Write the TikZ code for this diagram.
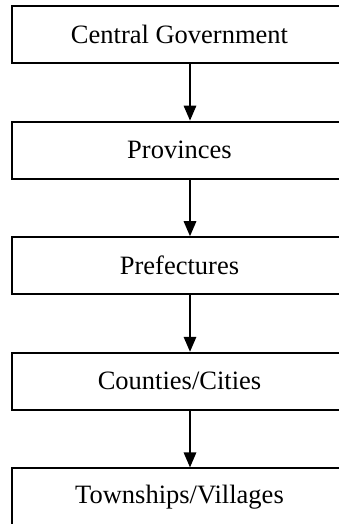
\documentclass[tikz,border=0pt]{standalone}
\usepackage{fontspec}
\setmainfont{Liberation Serif}
\usetikzlibrary{arrows.meta}
\begin{document}
\begin{tikzpicture}[x=1pt,y=1pt,
  box/.style={draw=black,line width=2pt,rectangle,minimum width=335pt,minimum height=57pt,inner sep=0pt,font=\fontsize{26.5}{31}\selectfont},
  arr/.style={line width=1.6pt,-{Triangle[width=12.5pt,length=15pt]}}]
\useasboundingbox (0,0) rectangle (339,-524);
\clip (0,0) rectangle (339,-524);
\coordinate (ax) at (190,0);
\node[box] (a) at (179.5,-34.5) {Central Government};
\node[box] (b) at (179.5,-150.1) {Provinces};
\node[box] (c) at (179.5,-265.7) {Prefectures};
\node[box] (d) at (179.5,-381.3) {Counties/Cities};
\node[box] (e) at (179.5,-496.9) {Townships/Villages};
\draw[arr] (a.south -| ax) -- (b.north -| ax);
\draw[arr] (b.south -| ax) -- (c.north -| ax);
\draw[arr] (c.south -| ax) -- (d.north -| ax);
\draw[arr] (d.south -| ax) -- (e.north -| ax);
\end{tikzpicture}
\end{document}
